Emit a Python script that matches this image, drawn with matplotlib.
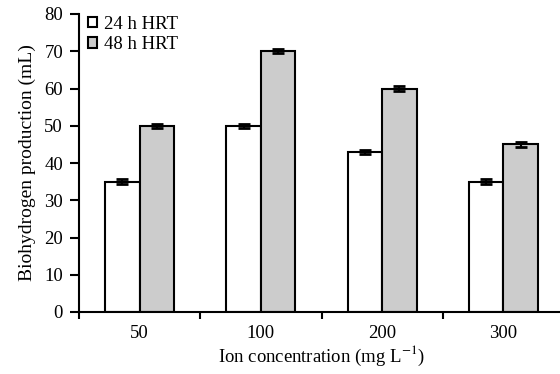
import numpy as np
import matplotlib
matplotlib.use('Agg')
import matplotlib.pyplot as plt

categories = ['50', '100', '200', '300']
hrt24 = [35, 50, 43, 35]
hrt48 = [50, 70, 60, 45]
err24 = [0.6, 0.6, 0.6, 0.6]
err48 = [0.6, 0.6, 0.6, 0.6]

plt.rcParams['font.family'] = ['Liberation Serif', 'DejaVu Serif']
plt.rcParams['mathtext.fontset'] = 'stix'

fig = plt.figure(figsize=(5.6, 3.74), dpi=100)
ax = fig.add_axes([79/560, 62/374, 485/560, 298/374])

x = np.arange(len(categories))
w = 0.285
ax.bar(x - w/2, hrt24, w, color='white', edgecolor='black', linewidth=1.5,
       yerr=err24, capsize=4, error_kw=dict(elinewidth=1.5, capthick=2),
       label='24 h HRT')
ax.bar(x + w/2, hrt48, w, color='#cccccc', edgecolor='black', linewidth=1.5,
       yerr=err48, capsize=4, error_kw=dict(elinewidth=1.5, capthick=2),
       label='48 h HRT')

ax.set_xlim(-0.5, len(categories) - 0.5)
ax.set_ylim(0, 80)
ax.set_yticks(range(0, 81, 10))
ax.set_xticks(x)
ax.set_xticklabels(categories)
ax.set_xticks(np.arange(-0.5, len(categories), 1.0), minor=True)
ax.tick_params(axis='x', which='major', length=0, labelsize=13.5, pad=9)
ax.tick_params(axis='x', which='minor', length=5, width=1.5, direction='out')
ax.tick_params(axis='y', length=6.5, width=1.5, direction='out',
               labelsize=13.5, pad=5)

for s in ['top', 'right']:
    ax.spines[s].set_visible(False)
for s in ['left', 'bottom']:
    ax.spines[s].set_linewidth(1.5)

ax.set_xlabel('Ion concentration (mg L$^{-1}$)', fontsize=13.5, labelpad=2)
ax.set_ylabel('Biohydrogen production (mL)', fontsize=14, labelpad=6)

ax.legend(loc='upper left', frameon=False, fontsize=13.5, handlelength=0.5,
          handleheight=0.5, handletextpad=0.35, labelspacing=0.2,
          borderaxespad=0.0, bbox_to_anchor=(0.003, 1.02))

fig.savefig('out.png', dpi=100)
